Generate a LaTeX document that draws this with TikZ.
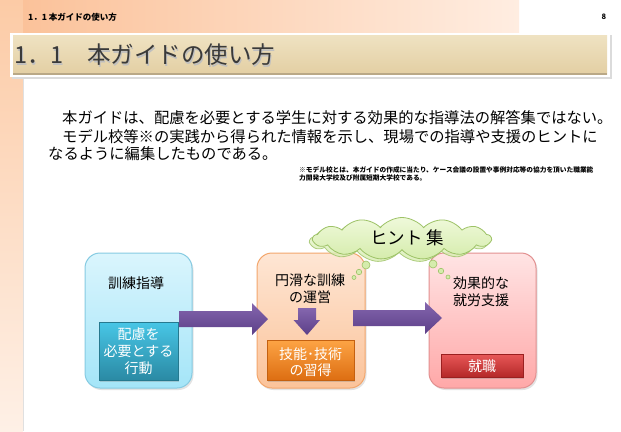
\documentclass[tikz,border=0pt]{standalone}
\usepackage{fontspec}
\setmainfont{Noto Sans CJK JP}
\usetikzlibrary{shapes.symbols,shadows}
\definecolor{stripTop}{HTML}{FCCBA6}
\definecolor{stripBot}{HTML}{FEF0E6}
\definecolor{hdrL}{HTML}{FBC29A}
\definecolor{hdrR}{HTML}{FFEDE1}
\definecolor{beigeT}{HTML}{EFE2C2}
\definecolor{beigeB}{HTML}{E3CFA3}
\definecolor{beigeD}{HTML}{B9A886}
\definecolor{titleTxt}{HTML}{3A3A3A}
\definecolor{blueT}{HTML}{DAF5FD}
\definecolor{blueB}{HTML}{A4E5F8}
\definecolor{blueD}{HTML}{86CBE2}
\definecolor{tealT}{HTML}{48C6E6}
\definecolor{tealB}{HTML}{2A8AA4}
\definecolor{tealD}{HTML}{26798F}
\definecolor{peachT}{HTML}{FEE6D4}
\definecolor{peachB}{HTML}{FBC39A}
\definecolor{peachD}{HTML}{F3A66C}
\definecolor{orT}{HTML}{FDA445}
\definecolor{orB}{HTML}{DD6E12}
\definecolor{orD}{HTML}{C46010}
\definecolor{pinkT}{HTML}{FFE4E4}
\definecolor{pinkB}{HTML}{FFA8A8}
\definecolor{pinkD}{HTML}{E29090}
\definecolor{redT}{HTML}{E85858}
\definecolor{redB}{HTML}{B42828}
\definecolor{redD}{HTML}{9A2020}
\definecolor{purT}{HTML}{8466AE}
\definecolor{purB}{HTML}{5C3F88}
\definecolor{cloudT}{HTML}{EFF9DA}
\definecolor{cloudB}{HTML}{D5ECAC}
\definecolor{cloudD}{HTML}{9DC266}
\begin{document}
\begin{tikzpicture}[x=1pt,y=-1pt,
  outerbox/.style={rounded corners=15pt, line width=1pt, inner sep=0pt,
    drop shadow={opacity=0.22, shadow xshift=1.5pt, shadow yshift=-2pt}},
  innerbox/.style={line width=0.8pt, inner sep=0pt,
    drop shadow={opacity=0.3, shadow xshift=1pt, shadow yshift=-1.5pt}},
  boxtext/.style={font=\fontsize{14}{17}\selectfont, align=center, inner sep=0pt},
  whitetext/.style={boxtext, text=white},
  bodytext/.style={font=\fontsize{15.3}{18}\selectfont, anchor=base west, inner sep=0pt},
  notetext/.style={font=\fontsize{6.7}{7.5}\selectfont\bfseries, anchor=base west, inner sep=0pt},
  blockarrow/.style={top color=purT, bottom color=purB, draw=none},
  cloudshape/.style={cloud, cloud puffs=13, cloud puff arc=100, aspect=4.2,
    minimum width=178pt, minimum height=42pt, inner sep=0pt,
    top color=cloudT, bottom color=cloudB, draw=cloudD, line width=0.8pt},
  bubble/.style={circle, inner sep=0pt, fill=cloudB, draw=cloudD, line width=0.6pt}
]
\useasboundingbox (0,0) rectangle (621,431);
\fill[white] (0,0) rectangle (621,431);
% left strip and header
\shade[top color=stripTop, bottom color=stripBot] (0,0) rectangle (23,431);
\draw[black!12, line width=0.6pt] (23,33) -- (23,431);
\shade[left color=hdrL, right color=hdrR] (23,0) rectangle (519,33);
\node[font=\fontsize{8.5}{10}\selectfont\bfseries, anchor=west, inner sep=0pt] (hdr) at (28,17) {1．1 本ガイドの使い方};
\node[font=\fontsize{7.5}{9}\selectfont\bfseries, anchor=center, inner sep=0pt] (page) at (604,17) {8};
% title banner
\fill[black!14] (11.5,35) rectangle (612,79);
\fill[white] (10,33) rectangle (610,77);
\shade[top color=beigeT, bottom color=beigeB] (13,35) rectangle (607,74);
\fill[beigeD] (13,72.5) rectangle (607,74.5);
\node[font=\fontsize{23.5}{27}\selectfont, text=black!25, anchor=west, inner sep=0pt] at (15.2,56.2) {1．1　本ガイドの使い方};
\node[font=\fontsize{23.5}{27}\selectfont, text=titleTxt, anchor=west, inner sep=0pt] (title) at (14,55) {1．1　本ガイドの使い方};
% body text
\node[bodytext] (l1) at (62,123) {本ガイドは、配慮を必要とする学生に対する効果的な指導法の解答集ではない。};
\node[bodytext] (l2) at (62,142) {モデル校等※の実践から得られた情報を示し、現場での指導や支援のヒントに};
\node[bodytext] (l3) at (48,159) {なるように編集したものである。};
\node[notetext] (n1) at (299,172.5) {※モデル校とは、本ガイドの作成に当たり、ケース会議の設置や事例対応等の協力を頂いた職業能};
\node[notetext] (n2) at (299,180) {力開発大学校及び附属短期大学校である。};
% outer boxes
\node[outerbox, top color=blueT, bottom color=blueB, draw=blueD,
  minimum width=107pt, minimum height=135pt] (bluebox) at (138.5,320.5) {};
\node[outerbox, top color=peachT, bottom color=peachB, draw=peachD,
  minimum width=108pt, minimum height=135pt] (orangebox) at (311,320.5) {};
\node[outerbox, top color=pinkT, bottom color=pinkB, draw=pinkD,
  minimum width=107pt, minimum height=135pt] (pinkbox) at (482.5,320.5) {};
% inner boxes
\node[innerbox, top color=tealT, bottom color=tealB, draw=tealD,
  minimum width=79pt, minimum height=58pt] (blueinner) at (138.5,351) {};
\node[innerbox, top color=orT, bottom color=orB, draw=orD,
  minimum width=87pt, minimum height=40pt] (orangeinner) at (310.5,360) {};
\node[innerbox, top color=redT, bottom color=redB, draw=redD,
  minimum width=82pt, minimum height=23pt] (redinner) at (482,365.5) {};
% texts
\node[boxtext] (t1) at (136,283) {訓練指導};
\node[whitetext] (t1i) at (138.5,351) {配慮を\\必要とする\\行動};
\node[boxtext] (t2) at (310,288.5) {円滑な訓練\\の運営};
\node[whitetext, font=\fontsize{14}{16}\selectfont] (t2i) at (310.5,362) {技能･技術\\の習得};
\node[boxtext, align=left] (t3) at (481,291.5) {効果的な\\就労支援};
\node[whitetext] (t3i) at (482,366) {就職};
% block arrows
\coordinate (a1s) at (179,319);
\coordinate (a1t) at (268,319);
\coordinate (a2s) at (353,318);
\coordinate (a2t) at (442,318);
\shade[blockarrow] ([yshift=8pt]a1s) -- ++(73,0) -- ++(0,-8) -- (a1t) -- ++(-16,16) -- ++(0,-8) -- ++(-73,0) -- cycle;
\shade[blockarrow] ([yshift=8pt]a2s) -- ++(72,0) -- ++(0,-8) -- (a2t) -- ++(-17,16) -- ++(0,-8) -- ++(-72,0) -- cycle;
\coordinate (a3s) at (307,308);
\coordinate (a3t) at (307,335);
\shade[blockarrow] ([xshift=-9pt]a3s) -- ++(18,0) -- ++(0,12) -- ++(4,0) -- (a3t) -- ++(-13.5,-15) -- ++(4.5,0) -- cycle;
% cloud
\node[cloudshape, draw opacity=0.8, fill opacity=0.8] (cloud2) at (399,241) {};
\node[cloudshape] (cloud) at (402,238.5) {};
\node[font=\fontsize{17.5}{20}\selectfont, inner sep=0pt] (hint) at (407,238) {ヒント 集};
\node[bubble, minimum size=8pt] (b1) at (366,265) {};
\node[bubble, minimum size=5.5pt] (b2) at (359,272) {};
\node[bubble, minimum size=4pt] (b3) at (354,277.5) {};
\node[bubble, minimum size=8pt] (b4) at (433,264) {};
\node[bubble, minimum size=5.5pt] (b5) at (441,271) {};
\node[bubble, minimum size=4pt] (b6) at (448,277) {};
\end{tikzpicture}
\end{document}
